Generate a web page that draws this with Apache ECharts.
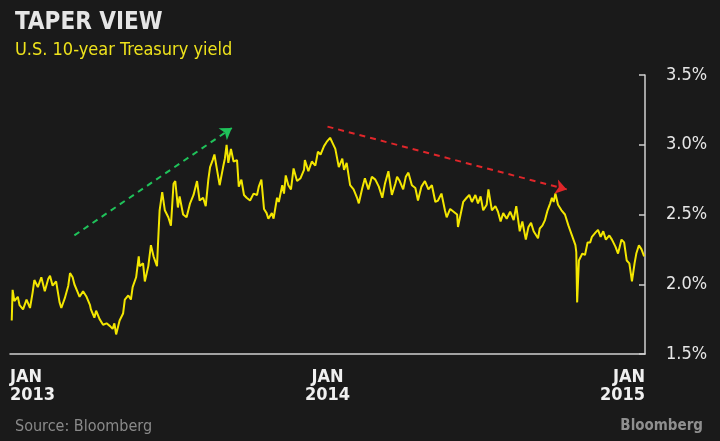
<!DOCTYPE html>
<html><head><meta charset="utf-8">
<script src="https://cdn.jsdelivr.net/npm/echarts/dist/echarts.min.js"></script>
<style>html,body{margin:0;padding:0;background:#1a1a1a}#c{width:720px;height:441px}</style>
</head><body><div id="c"></div>
<script>
const dates = [
'2013-01-03','2013-01-04','2013-01-06','2013-01-10','2013-01-12','2013-01-16','2013-01-20','2013-01-24','2013-01-27','2013-01-29',
'2013-02-02','2013-02-06','2013-02-10','2013-02-14','2013-02-16','2013-02-19','2013-02-23','2013-02-27','2013-03-01','2013-03-05',
'2013-03-09','2013-03-11','2013-03-14','2013-03-16','2013-03-20','2013-03-22','2013-03-26','2013-03-30','2013-04-03','2013-04-04',
'2013-04-08','2013-04-10','2013-04-14','2013-04-18','2013-04-22','2013-04-26','2013-04-29','2013-05-01','2013-05-03','2013-05-07',
'2013-05-11','2013-05-13','2013-05-17','2013-05-20','2013-05-22','2013-05-26','2013-05-29','2013-05-30','2013-06-03','2013-06-05',
'2013-06-09','2013-06-12','2013-06-15','2013-06-19','2013-06-20','2013-06-22','2013-06-25','2013-06-28','2013-07-02','2013-07-05',
'2013-07-08','2013-07-10','2013-07-13','2013-07-15','2013-07-19','2013-07-23','2013-07-27','2013-07-31','2013-08-04','2013-08-07',
'2013-08-11','2013-08-14','2013-08-17','2013-08-19','2013-08-22','2013-08-24','2013-08-27','2013-08-30','2013-09-03','2013-09-05',
'2013-09-07','2013-09-09','2013-09-12','2013-09-15','2013-09-19','2013-09-21','2013-09-24','2013-09-27','2013-09-30','2013-10-04',
'2013-10-08','2013-10-12','2013-10-14','2013-10-17','2013-10-20','2013-10-23','2013-10-25','2013-10-29','2013-10-31','2013-11-04',
'2013-11-06','2013-11-10','2013-11-12','2013-11-14','2013-11-17','2013-11-20','2013-11-23','2013-11-27','2013-12-01','2013-12-05',
'2013-12-06','2013-12-10','2013-12-14','2013-12-18','2013-12-21','2013-12-24','2013-12-28','2013-12-31','2014-01-04','2014-01-07',
'2014-01-10','2014-01-14','2014-01-18','2014-01-20','2014-01-23','2014-01-27','2014-01-31','2014-02-04','2014-02-06','2014-02-10',
'2014-02-13','2014-02-17','2014-02-21','2014-02-25','2014-03-01','2014-03-05','2014-03-08','2014-03-12','2014-03-16','2014-03-20',
'2014-03-22','2014-03-25','2014-03-29','2014-04-01','2014-04-04','2014-04-08','2014-04-12','2014-04-15','2014-04-19','2014-04-23',
'2014-04-27','2014-05-01','2014-05-05','2014-05-08','2014-05-12','2014-05-16','2014-05-18','2014-05-22','2014-05-26','2014-05-30',
'2014-05-31','2014-06-03','2014-06-06','2014-06-10','2014-06-13','2014-06-16','2014-06-20','2014-06-23','2014-06-26','2014-06-29',
'2014-07-03','2014-07-05','2014-07-09','2014-07-13','2014-07-16','2014-07-19','2014-07-22','2014-07-26','2014-07-30','2014-08-03',
'2014-08-06','2014-08-10','2014-08-13','2014-08-17','2014-08-20','2014-08-23','2014-08-26','2014-08-28','2014-08-31','2014-09-02',
'2014-09-05','2014-09-08','2014-09-11','2014-09-14','2014-09-16','2014-09-18','2014-09-20','2014-09-23','2014-09-27','2014-10-01',
'2014-10-05','2014-10-09','2014-10-13','2014-10-14','2014-10-15','2014-10-17','2014-10-21','2014-10-24','2014-10-27','2014-10-30',
'2014-11-01','2014-11-05','2014-11-08','2014-11-11','2014-11-14','2014-11-17','2014-11-21','2014-11-24','2014-11-28','2014-12-01',
'2014-12-05','2014-12-08','2014-12-11','2014-12-14','2014-12-17','2014-12-20','2014-12-22','2014-12-25','2014-12-28','2014-12-31'
];
const yields = [
1.74,1.96,1.88,1.91,1.85,1.82,1.89,1.83,1.94,2.03,
1.98,2.05,1.95,2.04,2.06,1.99,2.02,1.87,1.83,1.90,
1.99,2.08,2.05,2.00,1.94,1.91,1.95,1.91,1.85,1.82,
1.76,1.81,1.75,1.71,1.72,1.70,1.68,1.72,1.64,1.74,
1.79,1.89,1.92,1.89,1.98,2.05,2.20,2.13,2.15,2.02,
2.13,2.28,2.20,2.13,2.27,2.53,2.66,2.53,2.48,2.42,
2.72,2.74,2.55,2.63,2.50,2.48,2.58,2.64,2.74,2.60,
2.62,2.56,2.75,2.84,2.89,2.93,2.82,2.71,2.84,2.90,
3.00,2.87,2.97,2.88,2.89,2.70,2.75,2.64,2.62,2.60,
2.65,2.64,2.70,2.75,2.54,2.51,2.47,2.51,2.47,2.62,
2.59,2.71,2.65,2.78,2.71,2.68,2.83,2.74,2.76,2.82,
2.89,2.81,2.88,2.85,2.95,2.93,2.99,3.02,3.05,3.01,
2.97,2.84,2.90,2.82,2.87,2.71,2.68,2.62,2.58,2.69,
2.76,2.68,2.77,2.75,2.70,2.62,2.72,2.81,2.64,2.72,
2.77,2.74,2.68,2.77,2.80,2.71,2.69,2.60,2.70,2.74,
2.68,2.71,2.59,2.60,2.65,2.53,2.48,2.54,2.52,2.50,
2.41,2.50,2.59,2.62,2.64,2.59,2.64,2.58,2.63,2.53,
2.57,2.68,2.53,2.56,2.52,2.45,2.51,2.47,2.52,2.46,
2.56,2.38,2.45,2.32,2.41,2.44,2.38,2.39,2.33,2.40,
2.42,2.46,2.53,2.58,2.62,2.59,2.65,2.57,2.53,2.50,
2.42,2.35,2.28,2.23,1.87,2.17,2.22,2.21,2.30,2.30,
2.34,2.37,2.39,2.34,2.38,2.32,2.35,2.32,2.27,2.22,
2.32,2.30,2.17,2.15,2.02,2.15,2.22,2.28,2.25,2.20
];
const yTicks = [1.5, 2.0, 2.5, 3.0, 3.5];
const xTickDates = ['2013-01-01', '2014-01-01', '2015-01-01'];
const riseArrow = [['2013-03-16', 2.35], ['2013-09-13', 3.12]];
const fallArrow = [['2014-01-01', 3.13], ['2014-10-03', 2.68]];

const FONT = 'DejaVu Sans Condensed';
const toTs = s => { const p = s.split('-').map(Number); return new Date(p[0], p[1]-1, p[2]).getTime(); };
const MONTHS = ['JAN','FEB','MAR','APR','MAY','JUN','JUL','AUG','SEP','OCT','NOV','DEC'];

const chart = echarts.init(document.getElementById('c'), null, {renderer: 'canvas'});
chart.setOption({
  backgroundColor: '#1a1a1a',
  animation: false,
  title: [
    {text: 'TAPER VIEW', left: 10, top: 6, textStyle: {color: '#e6e6e6', fontSize: 24, fontWeight: 'bold', fontFamily: FONT}},
    {text: 'U.S. 10-year Treasury yield', left: 10, top: 36, textStyle: {color: '#efe31c', fontSize: 18, fontWeight: 'normal', fontFamily: FONT}},
    {text: 'Source: Bloomberg', left: 10, top: 414, textStyle: {color: '#8a8a8a', fontSize: 16, fontWeight: 'normal', fontFamily: FONT}},
    {text: 'Bloomberg', right: 12, top: 414, textStyle: {color: '#8f8f8f', fontSize: 15, fontWeight: 'bold', fontFamily: FONT}}
  ],
  grid: {left: 10, right: 75, top: 75, bottom: 87, containLabel: false},
  xAxis: {
    type: 'value',
    min: toTs(xTickDates[0]),
    max: toTs(xTickDates[xTickDates.length - 1]),
    axisLine: {show: true, lineStyle: {color: '#d0d0d0', width: 1.5}},
    axisTick: {show: false},
    splitLine: {show: false},
    axisLabel: {
      customValues: xTickDates.map(toTs),
      showMinLabel: true, showMaxLabel: true,
      alignMinLabel: 'left', alignMaxLabel: 'right',
      formatter: v => { const d = new Date(v); return MONTHS[d.getMonth()] + '\n' + d.getFullYear(); },
      color: '#f0f0f0', fontSize: 18, fontWeight: 'bold', fontFamily: FONT, lineHeight: 18, margin: 14
    }
  },
  yAxis: {
    type: 'value', position: 'right',
    min: yTicks[0], max: yTicks[yTicks.length - 1], interval: 0.5,
    axisLine: {show: true, lineStyle: {color: '#d0d0d0', width: 1.5}},
    axisTick: {show: true, inside: true, length: 6, lineStyle: {color: '#d0d0d0', width: 1.5}},
    splitLine: {show: false},
    axisLabel: {formatter: v => v.toFixed(1) + '%', color: '#e6e6e6', fontSize: 18, fontFamily: FONT, margin: 21}
  },
  series: [{
    type: 'line',
    data: dates.map((d, i) => [toTs(d), yields[i]]),
    showSymbol: false,
    lineStyle: {color: '#f3e600', width: 2},
    markLine: {
      silent: true,
      symbol: ['none', 'arrow'],
      symbolSize: 11,
      label: {show: false},
      data: [
        [{coord: [toTs(riseArrow[0][0]), riseArrow[0][1]], lineStyle: {color: '#1fc25a', type: [6, 5], width: 2}}, {coord: [toTs(riseArrow[1][0]), riseArrow[1][1]]}],
        [{coord: [toTs(fallArrow[0][0]), fallArrow[0][1]], lineStyle: {color: '#e0262a', type: [6, 5], width: 2}}, {coord: [toTs(fallArrow[1][0]), fallArrow[1][1]]}]
      ]
    }
  }]
});
</script>
</body></html>
